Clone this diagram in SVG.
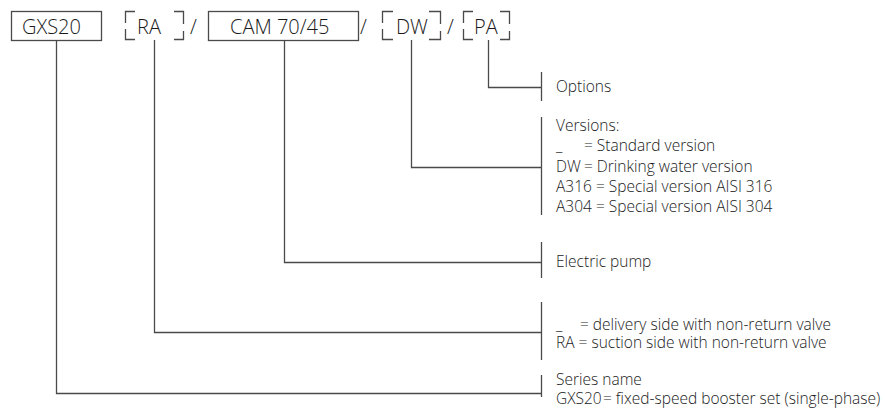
<svg xmlns="http://www.w3.org/2000/svg" width="885" height="415" viewBox="0 0 885 415">
<style>
.box{fill:none;stroke:#4a4a4a;stroke-width:1.3}
.ln{fill:none;stroke:#4a4a4a;stroke-width:1.3}
.t{font-family:"Open Sans","Liberation Sans",sans-serif;font-weight:300;fill:#1a1a1a}
.top{font-size:20px}
.r{font-size:15.5px}
</style>
<rect width="885" height="415" fill="#fff"/>
<g id="code-gxs20">
<rect class="box" x="11.5" y="11.5" width="90" height="29"/>
<text class="t top" x="22" y="34">GXS20</text>
</g>
<g id="code-ra">
<path class="box" d="M135,11.5 H125.5 V23 M125.5,29 V39.5 H135 M174,11.5 H183.5 V24 M183.5,31 V39.5 H174"/>
<text class="t top" x="137" y="34">RA</text>
</g>
<text class="t top" x="190" y="34">/</text>
<g id="code-cam">
<rect class="box" x="208.5" y="11.5" width="150" height="29"/>
<text class="t top" x="230" y="34">CAM 70/45</text>
</g>
<text class="t top" x="360" y="34">/</text>
<g id="code-dw">
<path class="box" d="M393,11.5 H382.5 V23 M382.5,29 V39.5 H393 M429,11.5 H440.5 V24 M440.5,31 V39.5 H429"/>
<text class="t top" x="396" y="34">DW</text>
</g>
<text class="t top" x="447" y="34">/</text>
<g id="code-pa">
<path class="box" d="M473,11.5 H463.5 V23 M463.5,29 V39.5 H473 M500,11.5 H509.5 V24 M509.5,31 V39.5 H500"/>
<text class="t top" x="474" y="34">PA</text>
</g>
<g id="connectors">
<path class="ln" d="M56.5,40 V393.5 H541"/>
<path class="ln" d="M154.5,40 V332.5 H541"/>
<path class="ln" d="M284.5,40 V262.5 H541"/>
<path class="ln" d="M411.5,40 V167.5 H541"/>
<path class="ln" d="M488.5,40 V87.5 H541"/>
</g>
<g id="desc-options">
<path class="ln" d="M541.5,72 V101"/>
<text class="t r" x="556" y="92">Options</text>
</g>
<g id="desc-versions">
<path class="ln" d="M541.5,117 V215"/>
<text class="t r" x="556" y="131">Versions:</text>
<text class="t r" x="556" y="151">_</text>
<text class="t r" x="584" y="151">= Standard version</text>
<text class="t r" x="556" y="172">DW</text>
<text class="t r" x="584" y="172">= Drinking water version</text>
<text class="t r" x="556" y="192">A316 = Special version AISI 316</text>
<text class="t r" x="556" y="212">A304 = Special version AISI 304</text>
</g>
<g id="desc-pump">
<path class="ln" d="M541.5,242 V278"/>
<text class="t r" x="556" y="267">Electric pump</text>
</g>
<g id="desc-valve">
<path class="ln" d="M541.5,302 V360"/>
<text class="t r" x="556" y="330">_</text>
<text class="t r" x="580" y="330">= delivery side with non-return valve</text>
<text class="t r" x="556" y="348">RA = suction side with non-return valve</text>
</g>
<g id="desc-series">
<path class="ln" d="M541.5,375 V397"/>
<text class="t r" x="556" y="385">Series name</text>
<text class="t r" x="556" y="404">GXS20</text>
<text class="t r" x="603" y="404">= fixed-speed booster set (single-phase)</text>
</g>
</svg>
